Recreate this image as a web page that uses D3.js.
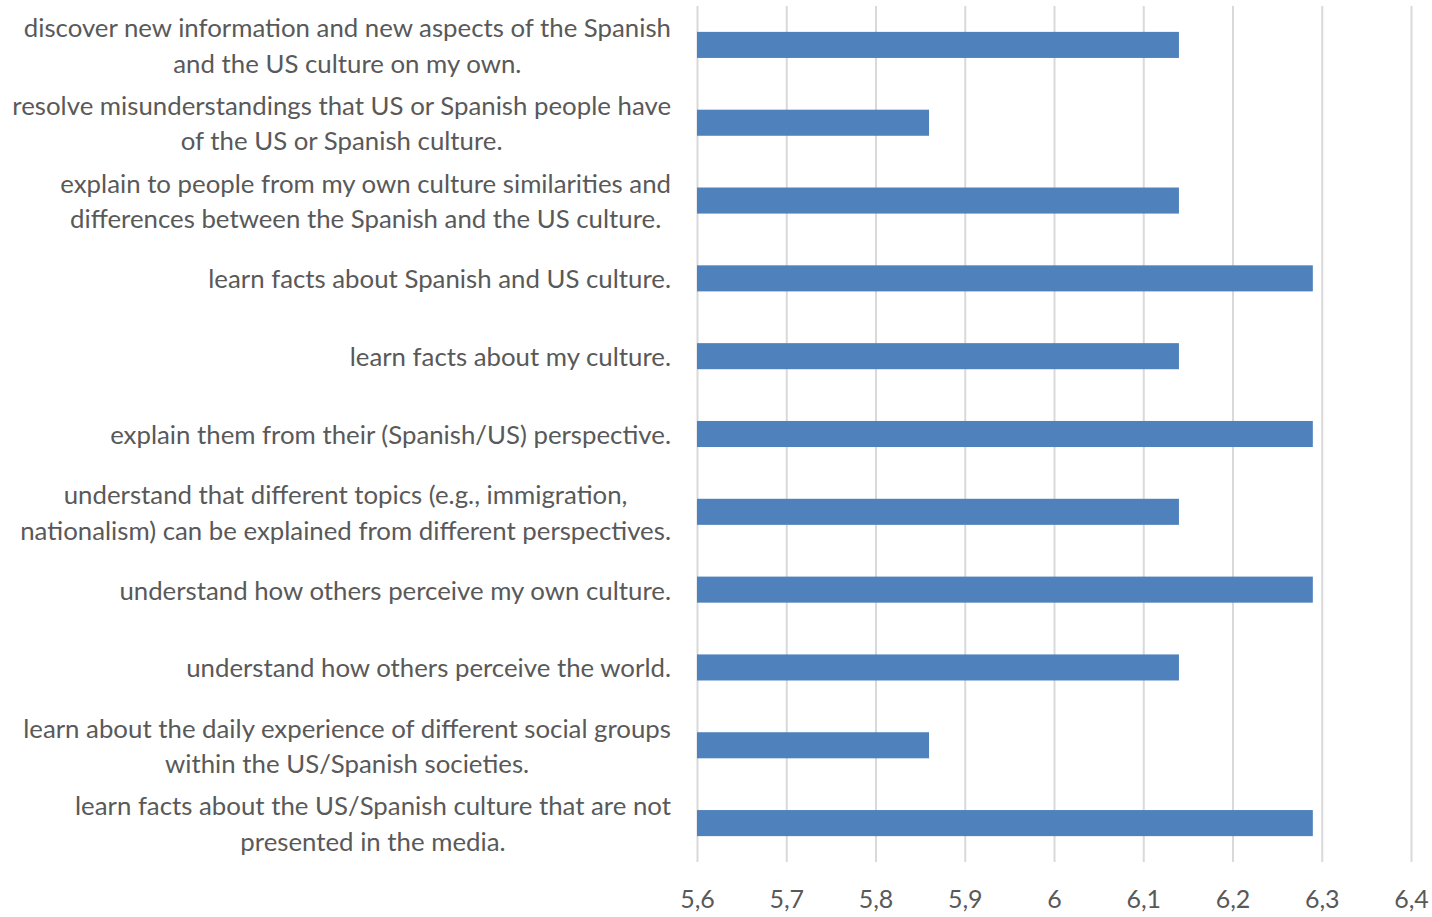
<!DOCTYPE html>
<html>
<head>
<meta charset="utf-8">
<script src="https://cdn.jsdelivr.net/npm/d3@7"></script>
<style>
  html, body { margin: 0; padding: 0; background: #fff; }
  svg { display: block; }
  text { font-family: Lato, "Open Sans", sans-serif; fill: #595959; }
</style>
</head>
<body>
<svg id="chart" width="1432" height="917"></svg>
<script>
// Category labels (already wrapped into lines), top to bottom
const categories = [
  ["discover new information and new aspects of the Spanish", "and the US culture on my own."],
  ["resolve misunderstandings that US or Spanish people have", "of the US or Spanish culture."],
  ["explain to people from my own culture similarities and", "differences between the Spanish and the US culture."],
  ["learn facts about Spanish and US culture."],
  ["learn facts about my culture."],
  ["explain them from their (Spanish/US) perspective."],
  ["understand that different topics (e.g., immigration,", "nationalism) can be explained from different perspectives."],
  ["understand how others perceive my own culture."],
  ["understand how others perceive the world."],
  ["learn about the daily experience of different social groups", "within the US/Spanish societies."],
  ["learn facts about the US/Spanish culture that are not", "presented in the media."]
];
const values = [6.14, 5.86, 6.14, 6.29, 6.14, 6.29, 6.14, 6.29, 6.14, 5.86, 6.29];
const tickValues = [5.6, 5.7, 5.8, 5.9, 6.0, 6.1, 6.2, 6.3, 6.4];
const tickLabels = ["5,6", "5,7", "5,8", "5,9", "6", "6,1", "6,2", "6,3", "6,4"];

const svg = d3.select("#chart");
const plot = { left: 697, right: 1411, top: 6, bottom: 862 };
const labelRight = 671;
const widestLineWidth = 651;

const x = d3.scaleLinear().domain([5.6, 6.4]).range([plot.left, plot.right]);
const y = d3.scaleBand()
  .domain(d3.range(categories.length))
  .range([plot.top, plot.bottom])
  .paddingInner(0.665)
  .paddingOuter(0.3325);

// Size the label font so the longest line fills the label column
const probe = svg.append("text").style("font-size", "100px")
  .text("nationalism) can be explained from different perspectives.");
const probeW = probe.node().getComputedTextLength();
probe.remove();
const fontSize = Math.min(26, 100 * widestLineWidth / probeW);

// Vertical gridlines and value labels
const xAxis = d3.axisBottom(x)
  .tickValues(tickValues)
  .tickSize(-(plot.bottom - plot.top))
  .tickFormat((d, i) => tickLabels[i]);
const gx = svg.append("g")
  .attr("transform", `translate(0,${plot.bottom})`)
  .call(xAxis);
gx.select(".domain").remove();
gx.selectAll(".tick line").attr("stroke", "#d9d9d9").attr("stroke-width", 2);
gx.selectAll(".tick text")
  .attr("y", 46)
  .attr("dy", 0)
  .style("font-size", "25px")
  .style("fill", "#595959");

// Bars
svg.append("g").selectAll("rect")
  .data(values)
  .join("rect")
  .attr("x", x(5.6))
  .attr("y", (d, i) => y(i))
  .attr("width", d => x(d) - x(5.6))
  .attr("height", y.bandwidth())
  .attr("fill", "#4f81bd");

// Category labels: each block right-aligned, lines centred within the block
const lineGap = 35.5;
const gl = svg.append("g").style("font-size", fontSize + "px");
categories.forEach((lines, i) => {
  const cy = y(i) + y.bandwidth() / 2;
  const t = gl.append("text").attr("text-anchor", "middle").attr("dominant-baseline", "central");
  const spans = lines.map((ln, k) => t.append("tspan")
    .attr("y", cy + (k - (lines.length - 1) / 2) * lineGap)
    .text(ln));
  const w = d3.max(spans, s => s.node().getComputedTextLength());
  spans.forEach(s => s.attr("x", labelRight - w / 2));
});
</script>
</body>
</html>
